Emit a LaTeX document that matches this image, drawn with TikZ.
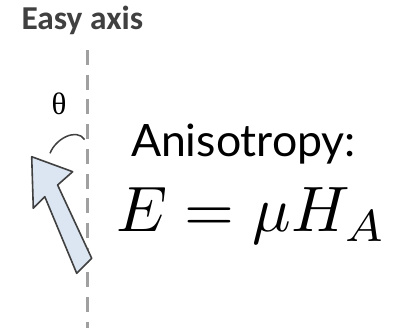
\documentclass[tikz,border=0pt]{standalone}
\usepackage{fontspec}
\setmainfont{Latin Modern Roman}
\newfontfamily\easyfont{Carlito}
\newfontfamily\anisofont{Lato}
\newfontfamily\thetafont{Liberation Serif}
\definecolor{txtgray}{HTML}{404040}
\definecolor{dashgray}{HTML}{A0A0A0}
\definecolor{arrowfill}{HTML}{DCE6F2}
\definecolor{edgegray}{HTML}{404040}
\begin{document}
\begin{tikzpicture}[x=1pt,y=-1pt,
  lbl/.style={inner sep=0pt, outer sep=0pt, anchor=base west},
  axisline/.style={draw=dashgray, line width=3pt, dash pattern=on 15pt off 9.7pt},
  magarrow/.style={draw=edgegray, fill=arrowfill, line width=1.6pt, line join=round},
  anglearc/.style={draw=edgegray, line width=1.5pt}]
\useasboundingbox (0,0) rectangle (393,327);
% easy axis
\coordinate (axtop) at (87,50);
\coordinate (axbot) at (87,330);
\draw[axisline] (axtop) -- (axbot);
\node[lbl, text=txtgray] (easy) at (21.5,29.3) {\fontsize{33.4}{36}\selectfont\easyfont\bfseries Easy axis};
% theta
\node[inner sep=0pt, anchor=base] (theta) at (59,114.5) {\fontsize{31}{34}\selectfont\thetafont θ};
% angle arc
\coordinate (arcA) at (50,153.3);
\coordinate (arcB) at (84.5,139.5);
\draw[anglearc] (arcA) .. controls (56,138) and (77,128) .. (arcB);
% magnetisation arrow
\draw[magarrow] (31.7,156.7) -- (72.7,171.7) -- (57.6,185) -- (91.7,258.3) -- (76.7,273.3) -- (44.8,196.7) -- (33.3,208.3) -- cycle;
% texts
\node[lbl] (aniso) at (131,156.7) {\fontsize{44.6}{50}\selectfont\anisofont Anisotropy:};
\node[lbl] (eq) at (116,231.7) {\scalebox{6.42}{$E = \mu H_A$}};
\end{tikzpicture}
\end{document}
